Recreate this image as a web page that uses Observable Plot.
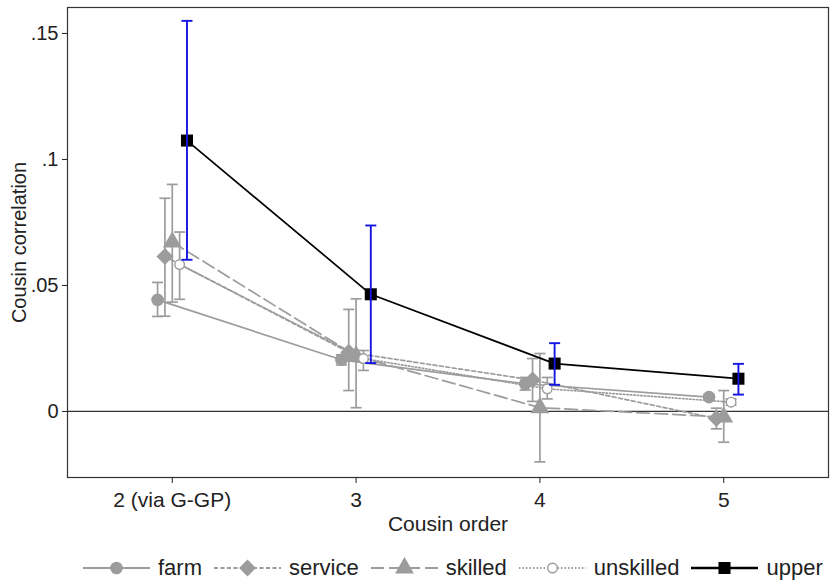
<!DOCTYPE html>
<html><head><meta charset="utf-8">
<script src="https://cdn.jsdelivr.net/npm/d3@7"></script>
<script src="https://cdn.jsdelivr.net/npm/@observablehq/plot@0.6"></script>
<style>
body{margin:0;background:#fff;font-family:"Liberation Sans",Arial,sans-serif;}
#legend{display:flex;justify-content:flex-start;align-items:center;font-size:22px;color:#222;height:46px;padding-left:83px;white-space:nowrap;}
#legend .item{display:flex;align-items:center;margin-right:12px;}
#legend svg{margin-right:8px;}
</style></head><body><div id="chart"></div><div id="legend"></div>
<script>
const orders = [2, 3, 4, 5];
const orderLabels = ["2 (via G-GP)", "3", "4", "5"];
const groups = ["farm", "service", "skilled", "unskilled", "upper"];

const farmEst = [0.0443, 0.0205, 0.0110, 0.0057];
const farmLo  = [0.0377, 0.0185, 0.0085, 0.0045];
const farmHi  = [0.0512, 0.0225, 0.0135, 0.0069];

const serviceEst = [0.0615, 0.0235, 0.0125, -0.0028];
const serviceLo  = [0.0378, 0.0083, 0.0040, -0.0069];
const serviceHi  = [0.0846, 0.0405, 0.0210, 0.0013];

const skilledEst = [0.0672, 0.0220, 0.0015, -0.0022];
const skilledLo  = [0.0434, 0.0015, -0.0200, -0.0122];
const skilledHi  = [0.0901, 0.0447, 0.0230, 0.0083];

const unskilledEst = [0.0583, 0.0210, 0.0090, 0.0037];
const unskilledLo  = [0.0445, 0.0163, 0.0050, 0.0025];
const unskilledHi  = [0.0712, 0.0242, 0.0135, 0.0050];

const upperEst = [0.1075, 0.0465, 0.0190, 0.0130];
const upperLo  = [0.0602, 0.0192, 0.0106, 0.0067];
const upperHi  = [0.1550, 0.0738, 0.0271, 0.0189];

const series = {
  farm: [farmEst, farmLo, farmHi],
  service: [serviceEst, serviceLo, serviceHi],
  skilled: [skilledEst, skilledLo, skilledHi],
  unskilled: [unskilledEst, unskilledLo, unskilledHi],
  upper: [upperEst, upperLo, upperHi]
};

const GRAY = "#9c9c9c";
const styles = {
  farm:      {stroke: GRAY, dash: null,    symbol: "circle",   r: 6.3, fill: GRAY},
  service:   {stroke: GRAY, dash: "4,2.5", symbol: "diamond2", r: 7.6, fill: GRAY},
  skilled:   {stroke: GRAY, dash: "13,5",  symbol: "triangle", r: 7.0, fill: GRAY},
  unskilled: {stroke: GRAY, dash: "1.5,2", symbol: "circle",   r: 4.8, fill: "white"},
  upper:     {stroke: "#000", dash: null,  symbol: "square",   r: 6.8, fill: "#000"}
};

const DODGE = 0.04;
const table = groups.flatMap((g, gi) => orders.map((o, i) => ({
  group: g, order: o, xp: o + (gi - 2) * DODGE,
  est: series[g][0][i], lo: series[g][1][i], hi: series[g][2][i]
})));
const grayRows = table.filter(d => d.group !== "upper");
const upperRows = table.filter(d => d.group === "upper");
const CAP = 0.03;

const marks = [
  Plot.ruleY([0], {stroke: "#333", strokeWidth: 1.3}),
  Plot.ruleX(grayRows, {x: "xp", y1: "lo", y2: "hi", stroke: GRAY, strokeWidth: 1.7}),
  Plot.link(grayRows, {x1: d => d.xp - CAP, x2: d => d.xp + CAP, y1: "lo", y2: "lo", stroke: GRAY, strokeWidth: 1.7}),
  Plot.link(grayRows, {x1: d => d.xp - CAP, x2: d => d.xp + CAP, y1: "hi", y2: "hi", stroke: GRAY, strokeWidth: 1.7})
];
for (const g of groups) {
  const s = styles[g];
  const rows = table.filter(d => d.group === g);
  marks.push(Plot.line(rows, {x: "xp", y: "est", stroke: s.stroke, strokeWidth: 1.7, strokeDasharray: s.dash}));
}
for (const g of groups) {
  const s = styles[g];
  const rows = table.filter(d => d.group === g);
  marks.push(Plot.dot(rows, {x: "xp", y: "est", symbol: s.symbol, r: s.r, fill: s.fill, stroke: s.stroke, strokeWidth: g === "unskilled" ? 1.4 : 0}));
}
marks.push(
  Plot.ruleX(upperRows, {x: "xp", y1: "lo", y2: "hi", stroke: "#1515e0", strokeWidth: 1.9}),
  Plot.link(upperRows, {x1: d => d.xp - CAP, x2: d => d.xp + CAP, y1: "lo", y2: "lo", stroke: "#1515e0", strokeWidth: 1.9}),
  Plot.link(upperRows, {x1: d => d.xp - CAP, x2: d => d.xp + CAP, y1: "hi", y2: "hi", stroke: "#1515e0", strokeWidth: 1.9}),
  Plot.frame({stroke: "#333", strokeWidth: 1.2}),
  Plot.axisX({ticks: orders, tickFormat: d => orderLabels[orders.indexOf(d)], tickSize: 6, tickPadding: 9, fontSize: 21,
    label: "Cousin order", labelAnchor: "center", labelArrow: "none", labelOffset: 53}),
  Plot.axisY({ticks: [0, 0.05, 0.1, 0.15], tickFormat: d => d === 0 ? "0" : d3.format(".2~f")(d).replace(/^0/, ""),
    tickSize: 5, tickPadding: 4, fontSize: 20, label: "Cousin correlation", labelAnchor: "center", labelArrow: "none", labelOffset: 56})
);

const chart = Plot.plot({
  width: 833, height: 545,
  marginLeft: 67, marginRight: 5, marginTop: 7, marginBottom: 68,
  style: {fontFamily: "'Liberation Sans', Arial, sans-serif", fontSize: "21px", color: "#222", background: "#fff"},
  x: {domain: [1.43, 5.57]},
  y: {domain: [-0.0262, 0.1603]},
  marks
});
document.getElementById("chart").appendChild(chart);

// Legend
const legend = document.getElementById("legend");
for (const g of groups) {
  const s = styles[g];
  const item = document.createElement("div");
  item.className = "item";
  const w = 67, h = 22;
  const svg = d3.create("svg").attr("width", w).attr("height", h);
  svg.append("line").attr("x1", 0).attr("x2", w).attr("y1", h / 2).attr("y2", h / 2)
    .attr("stroke", s.stroke).attr("stroke-width", g === "upper" ? 2.4 : 2).attr("stroke-dasharray", s.dash);
  const symMap = {circle: d3.symbolCircle, diamond2: d3.symbolDiamond2, triangle: d3.symbolTriangle, square: d3.symbolSquare};
  svg.append("path").attr("transform", `translate(${w / 2},${h / 2})`)
    .attr("d", d3.symbol(symMap[s.symbol], Math.PI * s.r * s.r)())
    .attr("fill", s.fill).attr("stroke", s.stroke).attr("stroke-width", g === "unskilled" ? 1.4 : 0);
  item.appendChild(svg.node());
  const t = document.createElement("span");
  t.textContent = g;
  item.appendChild(t);
  legend.appendChild(item);
}
</script>
</body></html>
